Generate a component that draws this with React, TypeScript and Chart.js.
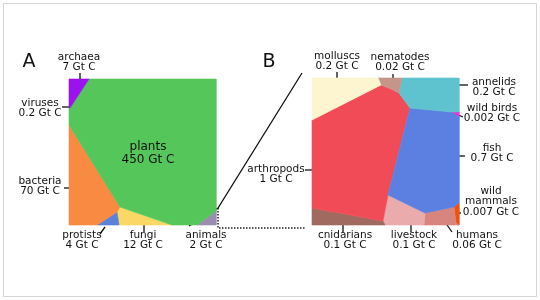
import { useEffect, useRef } from "react";
import { Chart, registerables } from "chart.js";
Chart.register(...registerables);

type P = [number, number];

// ---- Panel A regions (figure units, y grows downward) ----
const archaea: P[] = [[69, 79], [89, 79], [70, 108], [69, 108]];
const plants: P[] = [[89, 79], [216, 79], [216, 211], [197, 225], [172, 225], [120, 207], [69, 125], [69, 108], [70, 108]];
const bacteria: P[] = [[69, 125], [120, 207], [117, 212], [97, 225], [69, 225]];
const protists: P[] = [[97, 225], [117, 212], [119, 225]];
const fungi: P[] = [[117, 212], [120, 207], [172, 225], [119, 225]];
const animals: P[] = [[197, 225], [216, 211], [216, 225]];

// ---- Panel B regions ----
const molluscs: P[] = [[312, 78], [378, 78], [381, 85], [312, 120]];
const nematodes: P[] = [[378, 78], [402, 78], [399, 93], [391, 89], [381, 85]];
const annelids: P[] = [[402, 78], [459, 78], [459, 112], [452, 112], [410, 108], [399, 93]];
const wildBirds: P[] = [[452, 112], [459, 112], [459, 116]];
const fish: P[] = [[410, 108], [452, 112], [459, 116], [459, 203], [454, 207], [425, 213], [388, 195]];
const arthropods: P[] = [[312, 120], [381, 85], [391, 89], [399, 93], [410, 108], [388, 195], [383, 221], [312, 208]];
const cnidarians: P[] = [[312, 208], [383, 221], [385, 225], [312, 225]];
const livestock: P[] = [[388, 195], [425, 213], [424, 225], [385, 225], [383, 221]];
const humans: P[] = [[425, 213], [454, 207], [456, 223], [459, 225], [424, 225]];
const wildMammals: P[] = [[459, 203], [459, 225], [456, 223], [454, 207]];

const regionColors: string[] = [
  "#9b12ef", "#55c65a", "#f98a42", "#5b82d8", "#fbd866", "#9a8db0",
  "#fdf4d0", "#c4968a", "#5fc3cf", "#ee2fd6", "#5c80e2", "#f24b58",
  "#a06a60", "#e9abab", "#d9857f", "#f2520c",
];
const regionShapes: P[][] = [
  archaea, plants, bacteria, protists, fungi, animals,
  molluscs, nematodes, annelids, wildBirds, fish, arthropods,
  cnidarians, livestock, humans, wildMammals,
];

// ---- Labels ----
const labelNames: string[] = [
  "archaea", "viruses", "bacteria", "plants", "protists", "fungi", "animals",
  "molluscs", "nematodes", "annelids", "wild birds", "fish", "wild\nmammals",
  "arthropods", "cnidarians", "livestock", "humans",
];
const labelValues: string[] = [
  "7 Gt C", "0.2 Gt C", "70 Gt C", "450 Gt C", "4 Gt C", "12 Gt C", "2 Gt C",
  "0.2 Gt C", "0.02 Gt C", "0.2 Gt C", "0.002 Gt C", "0.7 Gt C", "0.007 Gt C",
  "1 Gt C", "0.1 Gt C", "0.1 Gt C", "0.06 Gt C",
];
// anchor (center x, first-line center y)
const labelAnchors: P[] = [
  [79, 57], [40, 103], [40, 181], [148, 147], [82, 235], [143, 235], [206, 235],
  [337, 56], [400, 57], [494, 82], [492, 108], [492, 148], [491, 191],
  [276, 169], [345, 235], [414, 235], [477, 235],
];

// leader lines
const leaders: P[][] = [
  [[80, 73], [80, 82]],
  [[62, 107], [70, 107]],
  [[64, 188], [73, 188]],
  [[100, 234], [105, 227]],
  [[144, 222], [144, 232]],
  [[337, 72], [337, 82]],
  [[393, 74], [393, 84]],
  [[457, 85], [468, 85]],
  [[456, 114], [463, 117]],
  [[453, 156], [465, 156]],
  [[456, 213], [461, 213]],
  [[305, 170], [318, 170]],
  [[343, 222], [343, 232]],
  [[411, 222], [411, 232]],
  [[445, 222], [452, 232]],
];
const zoomSolid: P[] = [[189, 226], [218, 208], [302, 73]];
const zoomDotted: P[] = [[218, 208], [218, 228], [306, 228]];

const toXY = (pts: P[]) => pts.map(([x, y]) => ({ x, y }));

export default function App() {
  const ref = useRef<HTMLCanvasElement | null>(null);
  useEffect(() => {
    document.body.style.margin = "0";
    if (!ref.current) return;
    const datasets: any[] = [];
    regionShapes.forEach((pts, i) => {
      datasets.push({
        data: toXY([...pts, pts[0]]),
        borderColor: regionColors[i],
        backgroundColor: regionColors[i],
        borderWidth: 0.6,
        fill: "shape",
        pointRadius: 0,
        tension: 0,
      });
    });
    leaders.forEach((pts) => {
      datasets.push({
        data: toXY(pts), borderColor: "#111", borderWidth: 1.3,
        fill: false, pointRadius: 0, tension: 0,
      });
    });
    datasets.push({
      data: toXY(zoomSolid), borderColor: "#111", borderWidth: 1.3,
      fill: false, pointRadius: 0, tension: 0,
    });
    datasets.push({
      data: toXY(zoomDotted), borderColor: "#222", borderWidth: 1.5,
      borderDash: [1.5, 1.5], fill: false, pointRadius: 0, tension: 0,
    });

    const bgPlugin = {
      id: "bg",
      beforeDraw(chart: any) {
        const { ctx, width, height } = chart;
        ctx.save();
        ctx.fillStyle = "#fff";
        ctx.fillRect(0, 0, width, height);
        ctx.strokeStyle = "#d4d4d4";
        ctx.lineWidth = 1;
        ctx.strokeRect(3.5, 3.5, width - 7, height - 7);
        ctx.restore();
      },
    };
    const textPlugin = {
      id: "texts",
      afterDatasetsDraw(chart: any) {
        const { ctx } = chart;
        const xs = chart.scales.x, ys = chart.scales.y;
        ctx.save();
        ctx.fillStyle = "#111";
        ctx.textAlign = "center";
        ctx.textBaseline = "middle";
        labelNames.forEach((name, i) => {
          const [ax, ay] = labelAnchors[i];
          const big = name === "plants";
          const lh = big ? 13 : 10.7;
          ctx.font = `${big ? 12 : 10.5}px "DejaVu Sans"`;
          const lines = [...name.split("\n"), labelValues[i]];
          lines.forEach((t, k) => {
            ctx.fillText(t, xs.getPixelForValue(ax), ys.getPixelForValue(ay + k * lh));
          });
        });
        ctx.font = '19px "DejaVu Sans"';
        ctx.fillText("A", xs.getPixelForValue(29), ys.getPixelForValue(62));
        ctx.fillText("B", xs.getPixelForValue(269), ys.getPixelForValue(62));
        ctx.restore();
      },
    };

    const chart = new Chart(ref.current, {
      type: "line",
      data: { datasets },
      options: {
        animation: false,
        responsive: false,
        layout: { padding: 0 },
        parsing: true as any,
        plugins: { legend: { display: false }, tooltip: { enabled: false } },
        scales: {
          x: { type: "linear", min: 0, max: 540, display: false },
          y: { type: "linear", min: 0, max: 300, reverse: true, display: false },
        },
      },
      plugins: [bgPlugin, textPlugin],
    });
    return () => chart.destroy();
  }, []);
  return <canvas ref={ref} width={540} height={300} />;
}
